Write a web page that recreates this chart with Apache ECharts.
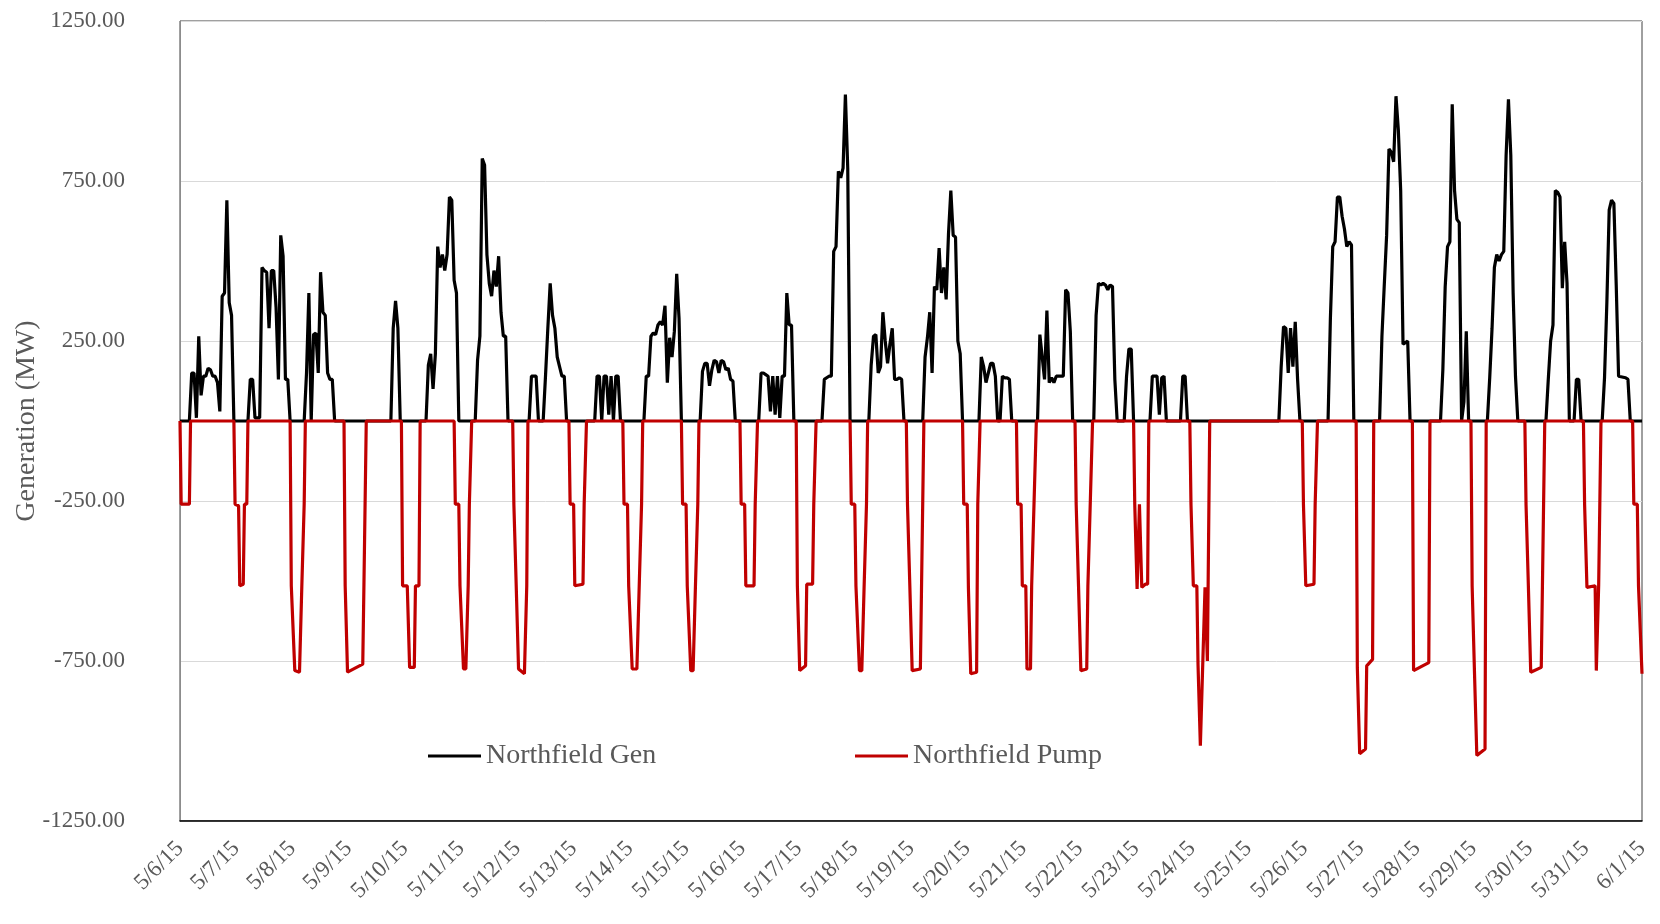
<!DOCTYPE html>
<html>
<head>
<meta charset="utf-8">
<title>Northfield</title>
<script src="https://cdn.jsdelivr.net/npm/echarts@6/dist/echarts.min.js"></script>
<style>
  html, body { margin: 0; padding: 0; background: #fff; }
  #chart { width: 1660px; height: 924px; }
</style>
</head>
<body>
<div id="chart"></div>
<script>
// x = hours since 5/6/15 00:00, y = MW
const dayLabels = ['5/6/15', '5/7/15', '5/8/15', '5/9/15', '5/10/15', '5/11/15', '5/12/15', '5/13/15',
  '5/14/15', '5/15/15', '5/16/15', '5/17/15', '5/18/15', '5/19/15', '5/20/15', '5/21/15', '5/22/15',
  '5/23/15', '5/24/15', '5/25/15', '5/26/15', '5/27/15', '5/28/15', '5/29/15', '5/30/15', '5/31/15', '6/1/15']

const genData = [
  [0, 0], [4, 0], [5, 150], [6, 150], [7, 10], [8, 265], [9, 80], [10, 140], [11, 140], [12, 165], [13, 160],
  [14, 140], [15, 140], [16, 120], [17, 30], [18, 390], [19, 400], [20, 690], [21, 370], [22, 330], [23, 0],
  [29, 0], [30, 130], [31, 130], [32, 10], [34, 10], [35, 480], [36, 470], [37, 465], [38, 290], [39, 470],
  [40, 470], [41, 355], [42, 130], [43, 580], [44, 515], [45, 130], [46, 130], [47, 0],
  [53, 0], [54, 150], [55, 400], [56, 0], [57, 270], [58, 275], [59, 150], [60, 465], [61, 340], [62, 330],
  [63, 150], [64, 130], [65, 130], [66, 0],
  [90, 0], [91, 290], [92, 375], [93, 290], [94, 0],
  [105, 0], [106, 175], [107, 210], [108, 100], [109, 210], [110, 545], [111, 480], [112, 520], [113, 470],
  [114, 520], [115, 700], [116, 690], [117, 440], [118, 400], [119, 0],
  [126, 0], [127, 190], [128, 265], [129, 820], [130, 800], [131, 520], [132, 430], [133, 390], [134, 470],
  [135, 420], [136, 515], [137, 340], [138, 265], [139, 265], [140, 0],
  [149, 0], [150, 140], [152, 140], [153, 0], [155, 0], [156, 140], [157, 290], [158, 430], [159, 330],
  [160, 290], [161, 200], [162, 170], [163, 140], [164, 140], [165, 0],
  [177, 0], [178, 140], [179, 140], [180, 0], [181, 140], [182, 140], [183, 20], [184, 140], [185, 0],
  [186, 140], [187, 140], [188, 0],
  [198, 0], [199, 140], [200, 140], [201, 265], [202, 275], [203, 270], [204, 300], [205, 310], [206, 300],
  [207, 360], [208, 120], [209, 260], [210, 200], [211, 280], [212, 460], [213, 320], [214, 0],
  [222, 0], [223, 155], [224, 180], [225, 180], [226, 110], [227, 160], [228, 190], [229, 185], [230, 150],
  [231, 190], [232, 185], [233, 160], [234, 165], [235, 130], [236, 125], [237, 0],
  [247, 0], [248, 150], [249, 150], [250, 145], [251, 140], [252, 30], [253, 140], [254, 20], [255, 140],
  [256, 10], [257, 140], [258, 140], [259, 400], [260, 300], [261, 300], [262, 0],
  [274, 0], [275, 130], [276, 135], [277, 140], [278, 140], [279, 530], [280, 545], [281, 780], [282, 760],
  [283, 790], [284, 1020], [285, 790], [286, 0],
  [294, 0], [295, 175], [296, 265], [297, 270], [298, 150], [299, 170], [300, 340], [301, 250], [302, 180],
  [303, 240], [304, 290], [305, 130], [306, 130], [307, 135], [308, 130], [309, 0],
  [317, 0], [318, 200], [319, 260], [320, 340], [321, 150], [322, 420], [323, 410], [324, 540], [325, 400],
  [326, 480], [327, 380], [328, 585], [329, 720], [330, 580], [331, 575], [332, 250], [333, 210], [334, 0],
  [341, 0], [342, 200], [343, 170], [344, 120], [345, 150], [346, 180], [347, 180], [348, 140], [349, 0],
  [350, 0], [351, 140], [352, 135], [353, 135], [354, 130], [355, 0],
  [366, 0], [367, 270], [368, 200], [369, 130], [370, 345], [371, 120], [372, 135], [373, 120], [374, 140],
  [375, 140], [376, 140], [377, 140], [378, 410], [379, 400], [380, 280], [381, 0],
  [390, 0], [391, 330], [392, 430], [393, 425], [394, 430], [395, 425], [396, 410], [397, 425], [398, 420],
  [399, 130], [400, 0], [403, 0], [404, 140], [405, 225], [406, 225], [407, 0],
  [414, 0], [415, 140], [417, 140], [418, 20], [419, 135], [420, 140], [421, 0],
  [427, 0], [428, 140], [429, 140], [430, 0],
  [469, 0], [470, 170], [471, 295], [472, 290], [473, 150], [474, 290], [475, 170], [476, 310], [477, 130], [478, 0],
  [490, 0], [491, 320], [492, 545], [493, 560], [494, 700], [495, 700], [496, 640], [497, 600], [498, 545],
  [499, 560], [500, 550], [501, 0],
  [512, 0], [513, 265], [514, 425], [515, 580], [516, 850], [517, 840], [518, 810], [519, 1015], [520, 910],
  [521, 720], [522, 240], [523, 245], [524, 250], [525, 0],
  [538, 0], [539, 160], [540, 420], [541, 545], [542, 560], [543, 990], [544, 720], [545, 630], [546, 620],
  [547, 0], [548, 60], [549, 280], [550, 0],
  [558, 0], [559, 135], [560, 290], [561, 480], [562, 520], [563, 500], [564, 520], [565, 530], [566, 830],
  [567, 1005], [568, 830], [569, 400], [570, 140], [571, 0],
  [583, 0], [584, 130], [585, 250], [586, 300], [587, 720], [588, 715], [589, 700], [590, 415], [591, 560],
  [592, 430], [593, 0], [595, 0], [596, 130], [597, 130], [598, 0],
  [607, 0], [608, 135], [609, 370], [610, 660], [611, 690], [612, 680], [613, 425], [614, 140], [617, 135],
  [618, 130], [619, 0], [624, 0]
]

const pumpData = [
  [0, 0], [0.5, -260], [4, -260], [4.5, 0],
  [23, 0], [23.5, -260], [25, -265], [25.5, -515], [27, -510], [27.5, -260], [28.5, -260], [29, 0],
  [47, 0], [47.5, -515], [49, -780], [51, -785], [52, -515], [53, -260], [53.5, 0],
  [70, 0], [70.5, -515], [71.5, -785], [78, -760], [78.5, -515], [79.5, 0],
  [94.5, 0], [95, -515], [97, -515], [98, -770], [100, -770], [100.5, -515], [102, -515], [102.5, 0],
  [117, 0], [117.5, -260], [119, -260], [119.5, -515], [121, -775], [122, -775], [123, -515], [123.5, -260], [124.5, 0],
  [142, 0], [142.5, -260], [143.5, -515], [144.5, -775], [147, -790], [148, -515], [148.5, 0],
  [166, 0], [166.5, -260], [168, -260], [168.5, -515], [172, -510], [172.5, -260], [173.5, 0],
  [189, 0], [189.5, -260], [191, -260], [191.5, -515], [193, -775], [195, -775], [196, -515], [197, -260], [197.5, 0],
  [214, 0], [214.5, -260], [216, -260], [216.5, -515], [218, -780], [219, -780], [220, -515], [221, -260], [221.5, 0],
  [239, 0], [239.5, -260], [241, -260], [241.5, -515], [245, -515], [245.5, -260], [246.5, 0],
  [263, 0], [263.5, -515], [264.5, -780], [267, -765], [267.5, -510], [270, -510], [270.5, -260], [271.5, 0],
  [286, 0], [286.5, -260], [288, -260], [288.5, -515], [290, -780], [291, -780], [292, -515], [293, -260], [293.5, 0],
  [310, 0], [310.5, -260], [311.5, -515], [312.5, -780], [316, -775], [316.5, -515], [317.5, 0],
  [334, 0], [334.5, -260], [336, -260], [336.5, -520], [337.5, -790], [340, -785], [340.5, -260], [341.5, 0],
  [357, 0], [357.5, -260], [359, -260], [359.5, -515], [361, -515], [361.5, -775], [363, -775], [363.5, -515], [364.5, -260], [365.5, 0],
  [382, 0], [382.5, -260], [383.5, -515], [384.5, -780], [387, -775], [387.5, -515], [388.5, -260], [389.5, 0],
  [407, 0], [407.5, -260], [408.5, -525], [409.5, -260], [410.5, -520], [412, -510], [413, -510], [413.5, 0],
  [431, 0], [431.5, -260], [432.5, -515], [434, -515], [434.5, -760], [435.5, -1015], [436.5, -765], [437.5, -520], [438.5, -750], [439.5, 0],
  [479, 0], [479.5, -260], [480.5, -515], [484, -510], [484.5, -260], [485.5, 0],
  [502, 0], [502.5, -770], [503.5, -1040], [506, -1025], [506.5, -765], [509, -745], [509.5, 0],
  [526, 0], [526.5, -780], [533, -755], [533.5, 0],
  [551, 0], [551.5, -515], [552.5, -785], [553.5, -1045], [557, -1025], [557.5, 0],
  [574, 0], [574.5, -260], [575.5, -515], [576.5, -785], [581, -770], [581.5, -515], [582.5, 0],
  [599, 0], [599.5, -260], [600.5, -520], [604, -515], [604.5, -780], [605.5, -515], [606.5, 0],
  [620, 0], [620.5, -260], [622, -260], [622.5, -515], [624, -790]
]

const font = 'Liberation Serif'
const textColor = '#595959'

const myChart = echarts.init(document.getElementById('chart'))
myChart.setOption({
  animation: false,
  backgroundColor: '#fff',
  grid: {
    left: 180,
    right: 18,
    top: 21,
    bottom: 103,
    containLabel: false,
    outerBoundsMode: 'none',
    show: true,
    borderColor: '#404040',
    borderWidth: 1
  },
  // y axis title
  graphic: [
    {
      type: 'text',
      x: 27,
      y: 421,
      rotation: Math.PI / 2,
      style: {
        text: 'Generation (MW)',
        fontFamily: font,
        fontSize: 28,
        fill: textColor,
        textAlign: 'center',
        textVerticalAlign: 'middle'
      }
    }
  ],
  legend: [
    {
      data: ['Northfield Gen'],
      left: 423,
      top: 737,
      icon: 'rect',
      itemWidth: 53,
      itemHeight: 3,
      itemGap: 4,
      textStyle: { fontFamily: font, fontSize: 28, color: textColor }
    },
    {
      data: ['Northfield Pump'],
      left: 850,
      top: 737,
      icon: 'rect',
      itemWidth: 53,
      itemHeight: 3,
      itemGap: 4,
      textStyle: { fontFamily: font, fontSize: 28, color: textColor }
    }
  ],
  xAxis: {
    type: 'value',
    min: 0,
    max: 624,
    interval: 24,
    axisLine: { show: true, onZero: false, lineStyle: { color: '#000', width: 1.5 } },
    axisTick: { show: false },
    splitLine: { show: false },
    axisLabel: {
      rotate: 45,
      margin: 24,
      fontFamily: font,
      fontSize: 23,
      color: textColor,
      formatter: function(v) {
        return dayLabels[Math.round(v / 24)]
      }
    }
  },
  yAxis: {
    type: 'value',
    min: -1250,
    max: 1250,
    interval: 500,
    axisLine: { show: true, lineStyle: { color: '#8c8c8c' } },
    axisTick: { show: false },
    splitLine: { show: true, lineStyle: { color: '#d9d9d9', width: 1 } },
    axisLabel: {
      margin: 55,
      fontFamily: font,
      fontSize: 23,
      color: textColor,
      formatter: function(v) {
        return v.toFixed(2)
      }
    }
  },
  series: [
    {
      name: 'Northfield Gen',
      type: 'line',
      data: genData,
      symbol: 'none',
      color: '#000000',
      lineStyle: { color: '#000000', width: 3.2 }
    },
    {
      name: 'Northfield Pump',
      type: 'line',
      data: pumpData,
      symbol: 'none',
      color: '#C00000',
      lineStyle: { color: '#C00000', width: 3.2 }
    }
  ]
})
window.addEventListener('resize', function() {
  myChart.resize()
})
</script>
</body>
</html>
